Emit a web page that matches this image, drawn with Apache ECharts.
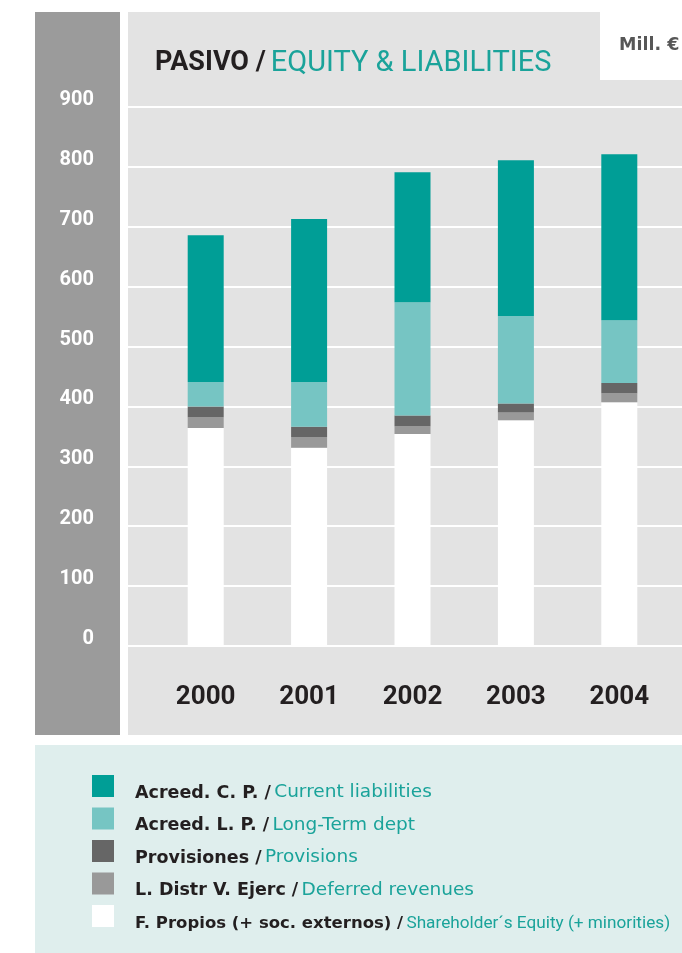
<!DOCTYPE html>
<html><head><meta charset="utf-8">
<script src="https://cdn.jsdelivr.net/npm/echarts@6/dist/echarts.min.js"></script>
<style>html,body{margin:0;padding:0;background:#fff}#c{width:682px;height:953px}</style>
</head><body><div id="c"></div>
<script>
const years = ['2000', '2001', '2002', '2003', '2004'];
const equity = [364, 331, 354, 377, 407];
const deferred = [18, 18, 13, 13, 15];
const provisions = [18, 17, 18, 15, 17];
const longTerm = [41, 75, 189, 146, 105];
const current = [245, 272, 217, 260, 277];
const yMin = 0, yMax = 900, yStep = 100;

const seriesNames = ['F. Propios', 'L. Distr', 'Provisiones', 'Acreed. L. P.', 'Acreed. C. P.'];
const seriesData = [equity, deferred, provisions, longTerm, current];
const seriesColors = ['#ffffff', '#999999', '#666666', '#76c5c3', '#009e96'];
const legendEs = {
  'Acreed. C. P.': 'Acreed. C. P. /',
  'Acreed. L. P.': 'Acreed. L. P. /',
  'Provisiones': 'Provisiones /',
  'L. Distr': 'L. Distr V. Ejerc /',
  'F. Propios': 'F. Propios (+ soc. externos) /'
};
const legendEn = {
  'Acreed. C. P.': 'Current liabilities',
  'Acreed. L. P.': 'Long-Term dept',
  'Provisiones': 'Provisions',
  'L. Distr': 'Deferred revenues',
  'F. Propios': 'Shareholder´s Equity (+ minorities)'
};

const chart = echarts.init(document.getElementById('c'), null, {renderer: 'canvas'});
const option = {
  backgroundColor: '#ffffff',
  animation: false,
  graphic: [
    {type: 'rect', z: -100, shape: {x: 35, y: 12, width: 85, height: 723}, style: {fill: '#9b9b9b'}},
    {type: 'rect', z: -100, shape: {x: 128, y: 12, width: 554, height: 723}, style: {fill: '#e3e3e3'}},
    {type: 'rect', z: -99, shape: {x: 600, y: 12, width: 82, height: 68}, style: {fill: '#ffffff'}},
    {type: 'rect', z: -100, shape: {x: 35, y: 745, width: 647, height: 208}, style: {fill: '#dfeeed'}},
    {type: 'text', z: 10, left: 619, top: 36, style: {text: 'Mill. €', font: 'bold 17.5px "DejaVu Sans"', fill: '#575757'}}
  ],
  title: {
    left: 150, top: 44,
    text: '{a|PASIVO /} {b|EQUITY & LIABILITIES}',
    textStyle: {
      rich: {
        a: {fontFamily: 'Roboto', fontWeight: 'bold', fontSize: 27, color: '#231f20'},
        b: {fontFamily: 'Roboto', fontWeight: 'normal', fontSize: 29, color: '#1aa39a'}
      }
    }
  },
  legend: {
    orient: 'vertical', left: 92, top: 775, padding: 0,
    itemWidth: 22, itemHeight: 22, itemGap: 5.5,
    icon: 'rect', selectedMode: false,
    data: ['Acreed. C. P.', 'Acreed. L. P.', 'Provisiones', 'L. Distr', 'F. Propios'],
    formatter: function (n) {
      if (n === 'F. Propios') return '{s| }{c|' + legendEs[n] + '} {d|' + legendEn[n] + '}';
      return '{s| }{a|' + legendEs[n] + '} {b|' + legendEn[n] + '}';
    },
    textStyle: {
      verticalAlign: 'middle',
      rich: {
        s: {fontSize: 2, width: 1, lineHeight: 32, verticalAlign: 'bottom'},
        a: {fontFamily: 'DejaVu Sans', fontWeight: 'bold', fontSize: 17.5, color: '#231f20', padding: [0, 0, 0, 15], lineHeight: 22, verticalAlign: 'bottom'},
        b: {fontFamily: 'DejaVu Sans', fontSize: 18.5, color: '#1aa39a', lineHeight: 22, verticalAlign: 'bottom'},
        c: {fontFamily: 'DejaVu Sans', fontWeight: 'bold', fontSize: 16.5, color: '#231f20', padding: [0, 0, 0, 15], lineHeight: 22, verticalAlign: 'bottom'},
        d: {fontFamily: 'Roboto', fontSize: 17.2, color: '#1aa39a', lineHeight: 22, verticalAlign: 'bottom'}
      }
    }
  },
  grid: [
    {left: 154, right: 11, top: 107, bottom: 307},
    {left: 128, right: 0, top: 107, bottom: 307}
  ],
  xAxis: [
    {type: 'category', gridIndex: 0, data: years,
      axisLine: {show: false}, axisTick: {show: false},
      axisLabel: {margin: 38, color: '#231f20', fontFamily: 'Roboto', fontWeight: 'bold', fontSize: 26}},
    {type: 'value', gridIndex: 1, show: false, min: 0, max: 1}
  ],
  yAxis: [
    {type: 'value', gridIndex: 0, min: yMin, max: yMax, interval: yStep, show: false, splitLine: {show: false}},
    {type: 'value', gridIndex: 1, min: yMin, max: yMax, interval: yStep,
      axisLine: {show: false}, axisTick: {show: false},
      splitLine: {show: true, lineStyle: {color: '#ffffff', width: 2}},
      axisLabel: {margin: 34, color: '#ffffff', fontFamily: 'Roboto', fontWeight: 'bold', fontSize: 20,
        verticalAlign: 'bottom', lineHeight: 14}}
  ],
  series: seriesNames.map((name, i) => ({
    name: name, type: 'bar', stack: 'total', xAxisIndex: 0, yAxisIndex: 0,
    barWidth: 36, data: seriesData[i], itemStyle: {color: seriesColors[i]}, z: 5
  }))
};
chart.setOption(option);
</script>
</body></html>
